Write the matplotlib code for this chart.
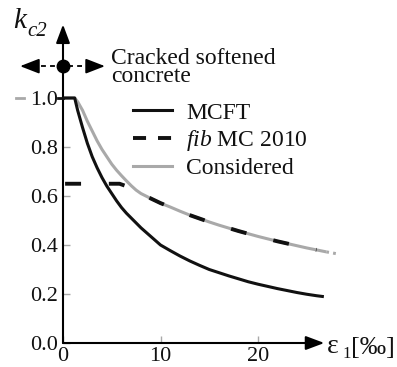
import matplotlib
matplotlib.use("Agg")
import matplotlib.pyplot as plt
from matplotlib.lines import Line2D

plt.rcParams['font.family'] = ['Liberation Serif', 'DejaVu Serif']
plt.rcParams['mathtext.fontset'] = 'custom'
plt.rcParams['mathtext.rm'] = 'Liberation Serif'
plt.rcParams['mathtext.it'] = 'Liberation Serif:italic'
plt.rcParams['lines.scale_dashes'] = False

# values
mcft_x = [0, 1.2, 1.5, 2, 2.5, 3, 3.5, 4, 4.5, 5, 5.5, 6, 6.5, 7, 7.5, 8, 9, 10, 11, 12,
          13, 14, 15, 16, 17, 18, 19, 20, 21, 22, 23, 24, 25, 26, 26.6]
mcft_y = [1.0, 1.0, 0.95, 0.88, 0.815, 0.76, 0.715, 0.675, 0.64, 0.61, 0.58, 0.553, 0.53,
          0.51, 0.49, 0.47, 0.435, 0.40, 0.377, 0.355, 0.335, 0.317, 0.30, 0.287, 0.274,
          0.262, 0.25, 0.24, 0.231, 0.222, 0.214, 0.206, 0.199, 0.193, 0.19]

fib_x = [0, 5.8, 6.5, 7, 7.5, 8, 9, 10, 11, 12, 13, 14, 15, 16, 17, 18, 19, 20, 21, 22,
         23, 24, 25, 26]
fib_y = [0.65, 0.65, 0.64, 0.631, 0.62, 0.61, 0.59, 0.571, 0.555, 0.538, 0.522, 0.508,
         0.494, 0.481, 0.469, 0.457, 0.446, 0.435, 0.425, 0.415, 0.406, 0.397, 0.388, 0.38]

cons_x = [0, 1.2, 1.5, 2, 2.5, 3, 3.5, 4, 4.5, 5, 5.5, 6, 6.5, 7, 7.5, 8, 9, 10, 11, 12,
          13, 14, 15, 16, 17, 18, 19, 20, 21, 22, 23, 24, 25, 26, 27]
cons_y = [1.0, 1.0, 0.985, 0.95, 0.905, 0.865, 0.825, 0.79, 0.76, 0.73, 0.705, 0.683,
          0.662, 0.642, 0.624, 0.61, 0.59, 0.571, 0.555, 0.538, 0.522, 0.508, 0.494, 0.481,
          0.469, 0.457, 0.446, 0.435, 0.425, 0.415, 0.406, 0.397, 0.388, 0.38, 0.372]
tail_x = [27, 28.4]
tail_y = [0.372, 0.362]

crack_y = 1.13
xticks = [0, 10, 20]
yticks = [0.0, 0.2, 0.4, 0.6, 0.8, 1.0]

W, H = 397, 367
GRAY = '#a9a9a9'
INK = '#111111'


def fx(x):
    return x / W


def fy(y):
    return 1 - y / H


fig = plt.figure(figsize=(W / 100, H / 100), dpi=100)
x0, x1 = 0, 29
y0, y1 = 0, 1.32
ax = fig.add_axes([fx(63), fy(343), (x1 - x0) * 9.75 / W, (y1 - y0) * 245 / H])
ax.set_xlim(x0, x1)
ax.set_ylim(y0, y1)
for s in ax.spines.values():
    s.set_visible(False)

ax.plot(cons_x, cons_y, color=GRAY, lw=2.2, solid_capstyle='butt', zorder=2)
ax.plot(tail_x, tail_y, color=GRAY, lw=2.2, ls=(0, (2, 3)), zorder=2, clip_on=False)
ax.plot(fib_x, fib_y, color=INK, lw=2.8, ls=(30, (11.5, 20)), zorder=3)
ax.plot(mcft_x, mcft_y, color=INK, lw=2.2, zorder=4)

# axes as arrows
arr = dict(arrowstyle='-|>,head_length=0.8,head_width=0.3', color='black', lw=1.5,
           mutation_scale=14, shrinkA=0, shrinkB=0)
ax.annotate('', xy=(26.8, 0), xytext=(0, 0), arrowprops=arr, annotation_clip=False)
ax.annotate('', xy=(0, 1.30), xytext=(0, 0), arrowprops=arr, annotation_clip=False)

# ticks
ax.set_xticks(xticks)
ax.set_xticklabels([str(t) for t in xticks])
ax.set_yticks(yticks)
ax.set_yticklabels(['%.1f' % t for t in yticks])
ax.tick_params(axis='both', labelsize=16, colors=GRAY, labelcolor=INK, direction='in',
               length=5, width=1)
ax.tick_params(axis='x', pad=3)
ax.tick_params(axis='y', pad=3.5)
ax.plot([-0.5, 0], [1.0, 1.0], color=INK, lw=2, clip_on=False, zorder=5)
ax.plot([-4.8, -4.0], [1.0, 1.0], color=GRAY, lw=2, clip_on=False)

# cracked softened concrete marker
ax.plot([-3.2, 2.9], [crack_y, crack_y], color='black', lw=1.3, ls=(0, (3.5, 3)), clip_on=False)
head = dict(arrowstyle='-|>,head_length=0.9,head_width=0.35', color='black', lw=1.3,
            mutation_scale=13, shrinkA=0, shrinkB=0)
ax.annotate('', xy=(-4.4, crack_y), xytext=(-3.1, crack_y), arrowprops=head, annotation_clip=False)
ax.annotate('', xy=(4.3, crack_y), xytext=(3.0, crack_y), arrowprops=head, annotation_clip=False)
ax.plot([0], [crack_y], 'o', color='black', ms=9, clip_on=False, zorder=6)
fig.text(fx(111), fy(82), 'Cracked softened\nconcrete', fontsize=17, va='baseline', ha='left',
         linespacing=0.82, color=INK)

# axis labels
fig.text(fx(13), fy(28), 'k', fontsize=21, style='italic', va='baseline', color=INK)
fig.text(fx(27), fy(36), 'c2', fontsize=15, style='italic', va='baseline', color=INK)
fig.text(fx(327), fy(353), 'ε', fontsize=20, va='baseline', color=INK)
fig.text(fx(342), fy(358), '1', fontsize=12, va='baseline', color=INK)
fig.text(fx(351), fy(354), '[‰]', fontsize=19, va='baseline', color=INK)

handles = [Line2D([], [], color=INK, lw=2.2),
           Line2D([], [], color=INK, lw=2.8, dashes=(9.4, 8.6)),
           Line2D([], [], color=GRAY, lw=2.2)]
labels = ['MCFT', r'$\it{fib}$ MC 2010', 'Considered']
fig.legend(handles, labels, loc='upper left', bbox_to_anchor=(fx(133), fy(102)),
           frameon=False, fontsize=17, handlelength=1.65, handletextpad=0.6,
           labelspacing=0.2, borderpad=0, borderaxespad=0, labelcolor=INK)

fig.savefig('out.png', dpi=100)
